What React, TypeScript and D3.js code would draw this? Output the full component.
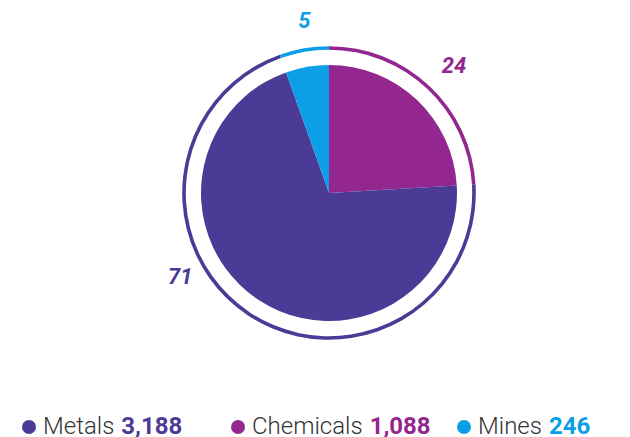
import * as d3 from 'd3';

const categories = ['Chemicals', 'Metals', 'Mines'];
const values = [1088, 3188, 246];
const percentLabels = ['24', '71', '5'];
const colors = ['#93278f', '#4b3b96', '#0a9fe6'];
const legendOrder = ['Metals', 'Chemicals', 'Mines'];

const width = 630;
const height = 437;
const cx = 329;
const cy = 193;
const pieR = 128;
const ringR = 145;
const labelR = 175;
const labelShift = 5; // labels sit a touch right of the pie centre
const legendDotX = [29, 238, 464];

export default function App() {
  const pie = d3.pie<number>().sort(null).value((d) => d)(values);
  const arc = d3.arc<d3.PieArcDatum<number>>().innerRadius(0).outerRadius(pieR);
  const ring = d3
    .arc<d3.PieArcDatum<number>>()
    .innerRadius(ringR - 1.8)
    .outerRadius(ringR + 1.8);

  // label angle: mid angle, but the big slice label sits lower-left
  const labelPos = (d: d3.PieArcDatum<number>, i: number) => {
    let a = (d.startAngle + d.endAngle) / 2;
    if (categories[i] === 'Metals') a = d.startAngle + (d.endAngle - d.startAngle) * 0.61;
    return [Math.sin(a) * labelR + labelShift, -Math.cos(a) * labelR];
  };

  return (
    <svg
      width={width}
      height={height}
      style={{ position: 'absolute', left: 0, top: 0, fontFamily: 'Roboto, sans-serif' }}
    >
      <g transform={`translate(${cx},${cy})`}>
        {pie.map((d, i) => (
          <path key={'s' + i} d={arc(d) || ''} fill={colors[i]} />
        ))}
        {pie.map((d, i) => (
          <path key={'r' + i} d={ring(d) || ''} fill={colors[i]} />
        ))}
        {pie.map((d, i) => {
          const [x, y] = labelPos(d, i);
          return (
            <text
              key={'l' + i}
              x={x}
              y={y}
              textAnchor="middle"
              dominantBaseline="central"
              fontSize={22}
              fontWeight={700}
              fontStyle="italic"
              fill={colors[i]}
            >
              {percentLabels[i]}
            </text>
          );
        })}
      </g>
      <g>
        {legendOrder.map((name, j) => {
          const i = categories.indexOf(name);
          return (
            <g key={name} transform={`translate(${legendDotX[j]},427)`}>
              <circle cx={0} cy={0} r={7} fill={colors[i]} />
              <text x={14} y={7} fontSize={24} fill="#333">
                <tspan fontWeight={300}>{name}</tspan>
                <tspan dx={7} fontWeight={700} fill={colors[i]}>
                  {d3.format(',')(values[i])}
                </tspan>
              </text>
            </g>
          );
        })}
      </g>
    </svg>
  );
}
